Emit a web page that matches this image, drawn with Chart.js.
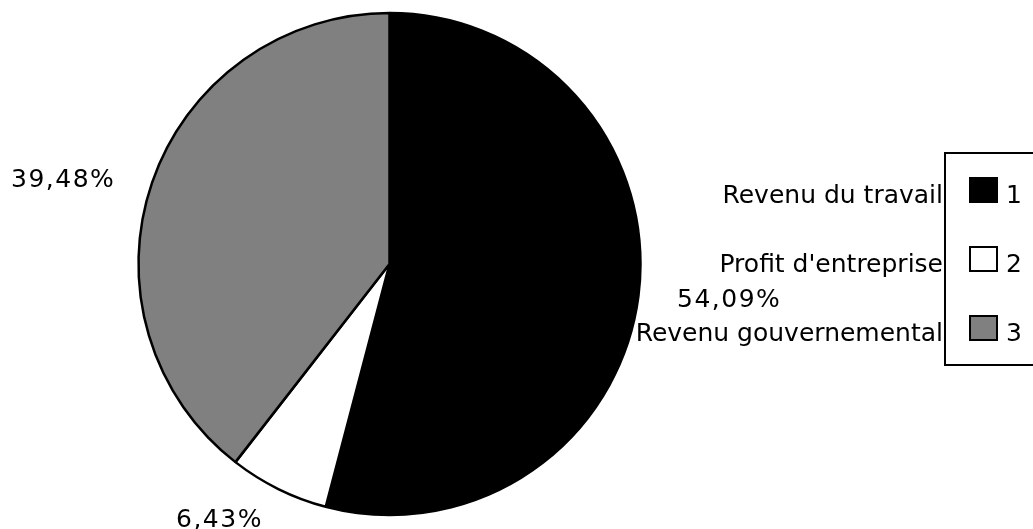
<!DOCTYPE html>
<html>
<head>
<meta charset="utf-8">
<script src="https://cdn.jsdelivr.net/npm/chart.js@4"></script>
<style>
  html, body { margin: 0; padding: 0; background: #fff; }
  #wrap { width: 1033px; height: 529px; }
</style>
</head>
<body>
<div id="wrap"><canvas id="myChart" width="1033" height="529"></canvas></div>
<script>
// categories and values
const categories = ['Revenu du travail', "Profit d'entreprise", 'Revenu gouvernemental'];
const shares = [54.09, 6.43, 39.48];
const legendKeys = ['1', '2', '3'];

const sliceColors = ['#000000', '#ffffff', '#808080'];
const FONT = '25px "DejaVu Sans", Verdana, sans-serif';

// percent labels, placed outside the pie like the original
const pctLabels = {
    id: 'pctLabels',
    afterDatasetsDraw(chart) {
        const ctx = chart.ctx;
        const arcs = chart.getDatasetMeta(0).data;
        // text anchor per slice (same order as shares): [x, baseline y, align]
        const spots = [[677, 307, 'left'], [176, 527, 'left'], [11, 187, 'left']];
        ctx.save();
        ctx.font = FONT;
        ctx.letterSpacing = '1.5px';
        ctx.fillStyle = '#000';
        ctx.textBaseline = 'alphabetic';
        arcs.forEach((arc, i) => {
            const txt = shares[i].toFixed(2).replace('.', ',') + '%';
            ctx.textAlign = spots[i][2];
            ctx.fillText(txt, spots[i][0], spots[i][1]);
        });
        ctx.restore();
    }
};

// boxed legend with the category names hanging out on the left
const boxLegend = {
    id: 'boxLegend',
    afterDraw(chart) {
        const ctx = chart.ctx;
        const boxLeft = 945, boxTop = 153, boxBottom = 365;
        const rows = [203, 272, 341]; // text baselines
        ctx.save();
        ctx.lineWidth = 2;
        ctx.strokeStyle = '#000';
        ctx.strokeRect(boxLeft, boxTop, 200, boxBottom - boxTop);
        ctx.font = FONT;
        ctx.textBaseline = 'alphabetic';
        categories.forEach((name, i) => {
            const y = rows[i];
            ctx.fillStyle = '#000';
            ctx.textAlign = 'right';
            ctx.fillText(name, boxLeft - 2, y);
            ctx.fillStyle = sliceColors[i];
            ctx.fillRect(970, y - 25, 27, 24);
            ctx.lineWidth = 2;
            ctx.strokeRect(970, y - 25, 27, 24);
            ctx.fillStyle = '#000';
            ctx.textAlign = 'left';
            ctx.fillText(legendKeys[i], 1006, y);
        });
        ctx.restore();
    }
};

const ctx = document.getElementById('myChart').getContext('2d');
const myChart = new Chart(ctx, {
    type: 'pie',
    data: {
        labels: categories,
        datasets: [{
            data: shares,
            backgroundColor: sliceColors,
            borderColor: '#000000',
            borderWidth: 2.5,
            radius: 251,
        }],
    },
    options: {
        responsive: false,
        animation: false,
        layout: { padding: { left: 0, right: 254, top: 0, bottom: 1 } },
        plugins: {
            legend: { display: false },
            tooltip: { enabled: false },
        },
    },
    plugins: [pctLabels, boxLegend],
});
</script>
</body>
</html>
